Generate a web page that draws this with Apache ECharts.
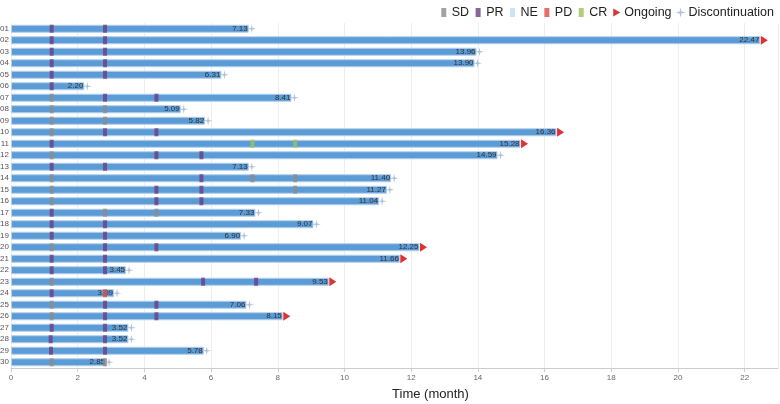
<!DOCTYPE html>
<html><head><meta charset="utf-8">
<script src="https://cdn.jsdelivr.net/npm/echarts@6/dist/echarts.min.js"></script>
<style>html,body{margin:0;padding:0;background:#fff}#c{width:780px;height:404px}</style>
</head><body><div id="c"></div>
<script>
const patients = ['01','02','03','04','05','06','07','08','09','10','11','12','13','14','15','16','17','18','19','20','21','22','23','24','25','26','27','28','29','30'];
const durations = [7.13,22.47,13.96,13.90,6.31,2.20,8.41,5.09,5.82,16.36,15.28,14.59,7.13,11.40,11.27,11.04,7.33,9.07,6.90,12.25,11.66,3.45,9.53,3.09,7.06,8.15,3.52,3.52,5.78,2.85];
const ongoingFlags = [0,1,0,0,0,0,0,0,0,1,1,0,0,0,0,0,0,0,0,1,1,0,1,0,0,1,0,0,0,0];
// response assessments: [patient, time (month)]
const sdPoints = [['07',1.22],['08',1.22],['08',2.82],['09',1.22],['09',2.82],['10',1.22],['12',1.22],['14',1.22],['14',7.24],['14',8.52],['15',1.22],['15',8.52],['16',1.22],['17',2.82],['17',4.36],['20',1.22],['23',1.22],['25',1.22],['26',1.22],['30',1.22],['30',2.82]];
const prPoints = [['01',1.22],['01',2.82],['02',1.22],['02',2.82],['03',1.22],['03',2.82],['04',1.22],['04',2.82],['05',1.22],['05',2.82],['06',1.22],['07',2.82],['07',4.36],['10',2.82],['10',4.36],['11',1.22],['12',4.36],['12',5.71],['13',1.22],['13',2.82],['14',5.71],['15',4.36],['15',5.71],['16',4.36],['16',5.71],['17',1.22],['18',1.22],['18',2.82],['19',1.22],['19',2.82],['20',2.82],['20',4.36],['21',1.22],['21',2.82],['22',1.22],['22',2.82],['23',5.76],['23',7.35],['24',1.22],['25',2.82],['25',4.36],['26',2.82],['26',4.36],['27',1.22],['27',2.82],['28',1.19],['28',2.82],['29',1.2],['29',2.82]];
const nePoints = [];
const pdPoints = [['24',2.82]];
const crPoints = [['11',7.24],['11',8.52]];
const xTicks = {min:0, max:23, interval:2};

const chart = echarts.init(document.getElementById('c'), null, {renderer:'canvas'});
const toXY = pts => pts.map(p => [p[1], p[0]]);
const ongoingData = [], discData = [];
durations.forEach((d,i)=>{ (ongoingFlags[i] ? ongoingData : discData).push([d, patients[i]]); });
const triPath = 'path://M0,0 L10,5 L0,10 Z';
const starPath = 'path://M5,0 L5.9,4.1 L10,5 L5.9,5.9 L5,10 L4.1,5.9 L0,5 L4.1,4.1 Z';
const legRect = 'path://M0,0 M10,10 M2.5,0.5 L7.5,0.5 L7.5,9.5 L2.5,9.5 Z';
const legTri = 'path://M0,0 M10,10 M2,1 L9,5 L2,9 Z';
const colors = {SD:'#8c8c8c', PR:'#6b3f7f', NE:'#c3dcf1', PD:'#dd4b3e', CR:'#9cc25a', Ongoing:'#d60000', Disc:'#9fb3cf'};
const markSeries = (name, pts, color) => ({
  name, type:'scatter', data: toXY(pts), symbol:'rect', symbolSize:[4,8],
  itemStyle:{color}, z:5, silent:true, animation:false
});
chart.setOption({
  animation:false,
  grid:{left:11, right:2, top:23, bottom:36, containLabel:false, outerBoundsMode:'none'},
  legend:{
    right:1, top:1, itemWidth:10, itemHeight:10, itemGap:4,
    textStyle:{fontSize:12.5, color:'#222', fontFamily:'Liberation Sans, Arial', padding:[0,0,0,-2]},
    data:[
      {name:'SD', icon:legRect},{name:'PR', icon:legRect},{name:'NE', icon:legRect},{name:'PD', icon:legRect},{name:'CR', icon:legRect},
      {name:'Ongoing', icon:legTri, itemStyle:{color:colors.Ongoing}},
      {name:'Discontinuation', icon:starPath}
    ]
  },
  xAxis:{
    type:'value', min:xTicks.min, max:xTicks.max, interval:xTicks.interval,
    axisLine:{show:true, lineStyle:{color:'#ccc'}},
    axisTick:{show:true, length:4, lineStyle:{color:'#ccc'}},
    axisLabel:{fontSize:8, color:'#666', margin:6, showMaxLabel:false, fontFamily:'Liberation Sans, Arial'},
    splitLine:{show:true, lineStyle:{color:'#eeeeee'}},
    name:'Time (month)', nameLocation:'middle', nameGap:20,
    nameTextStyle:{fontSize:13, color:'#222', fontFamily:'Liberation Sans, Arial', padding:[0,0,0,72]}
  },
  yAxis:{
    type:'category', data:patients, inverse:true,
    axisLine:{show:false}, axisTick:{show:false},
    axisLabel:{fontSize:8, color:'#555', margin:2, fontFamily:'Liberation Sans, Arial'},
    splitLine:{show:false}
  },
  series:[
    {
      type:'bar', data:durations, barWidth:8, z:2,
      itemStyle:{color:'#5b9bd6', borderColor:'#b4d0ee', borderWidth:1},
      label:{show:true, position:'insideRight', distance:1, fontSize:8, color:'#333',
        fontFamily:'Liberation Sans, Arial', formatter:p=>p.value.toFixed(2)}
    },
    markSeries('SD', sdPoints, colors.SD),
    markSeries('PR', prPoints, colors.PR),
    markSeries('NE', nePoints, colors.NE),
    markSeries('PD', pdPoints, colors.PD),
    markSeries('CR', crPoints, colors.CR),
    {name:'Ongoing', type:'scatter', data:ongoingData, symbol:triPath, symbolSize:[7,9], symbolOffset:[4,0],
      itemStyle:{color:colors.Ongoing}, z:6},
    {name:'Discontinuation', type:'scatter', data:discData, symbol:starPath, symbolSize:[9,9], symbolOffset:[3,0],
      itemStyle:{color:colors.Disc}, z:6}
  ]
});
</script></body></html>
